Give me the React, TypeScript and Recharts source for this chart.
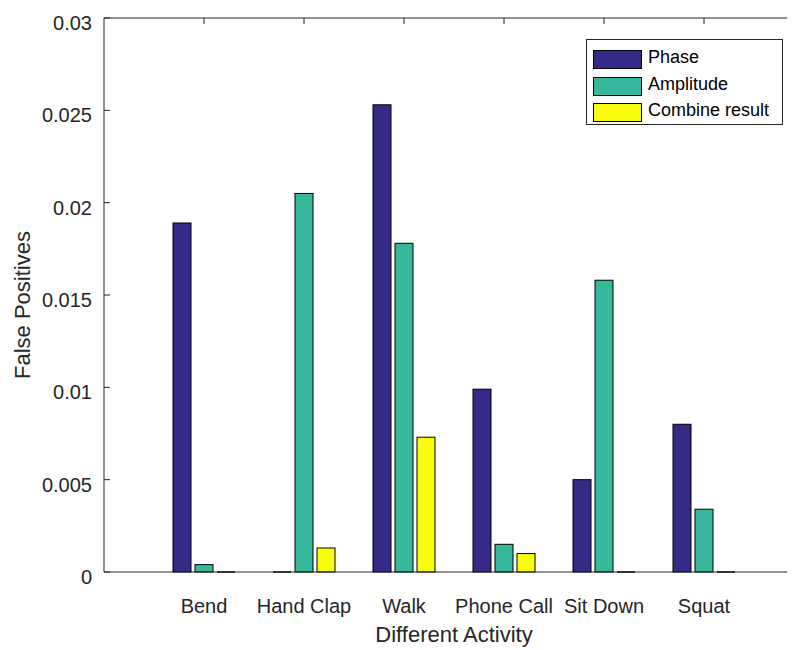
import { Bar, BarChart, Legend, XAxis, YAxis } from "recharts";

const activities = ["Bend", "Hand Clap", "Walk", "Phone Call", "Sit Down", "Squat"];
const phase = [0.0189, 0, 0.0253, 0.0099, 0.005, 0.008];
const amplitude = [0.0004, 0.0205, 0.0178, 0.0015, 0.0158, 0.0034];
const combined = [0, 0.0013, 0.0073, 0.001, 0, 0];
const yTicks = [0, 0.005, 0.01, 0.015, 0.02, 0.025, 0.03];

const series = [
	{ key: "phase", name: "Phase", color: "#352a87" },
	{ key: "amplitude", name: "Amplitude", color: "#37b89d" },
	{ key: "combined", name: "Combine result", color: "#f9fb0e" },
];

const data = activities.map((name, i) => ({
	name,
	phase: phase[i],
	amplitude: amplitude[i],
	combined: combined[i],
}));

const AXIS = "#262626";
const FONT = "'Liberation Sans', Arial, Helvetica, sans-serif";
const PLOT_LEFT = 96;
const PLOT_TOP = 10;

// zero-height bars still show up as a flat edge on the baseline
function BarShape(props: any) {
	const { x, y, width, height, fill } = props;
	if (!height) {
		return (
			<line x1={x} x2={x + width} y1={y} y2={y} stroke="#000" strokeWidth={1.5} />
		);
	}
	return (
		<rect
			x={x}
			y={y}
			width={width}
			height={height}
			fill={fill}
			stroke="#000"
			strokeWidth={1}
		/>
	);
}

function YTick(props: any) {
	const { y, payload } = props;
	return (
		<g>
			<line x1={PLOT_LEFT} x2={PLOT_LEFT + 6} y1={y} y2={y} stroke={AXIS} />
			<text
				x={PLOT_LEFT - 12}
				y={y + 5}
				textAnchor="end"
				dominantBaseline="central"
				fontSize={20}
				fill={AXIS}
				fontFamily={FONT}
			>
				{String(payload.value)}
			</text>
		</g>
	);
}

// category label below the axis, plus the inward tick on the top edge of the box
function XTick(props: any) {
	const { x, y, payload } = props;
	return (
		<g>
			<line x1={x} x2={x} y1={PLOT_TOP} y2={PLOT_TOP + 6} stroke={AXIS} />
			<text
				x={x}
				y={y}
				dy="0.71em"
				textAnchor="middle"
				fontSize={20}
				fill={AXIS}
				fontFamily={FONT}
			>
				{payload.value}
			</text>
		</g>
	);
}

function YLabel(props: any) {
	const { viewBox } = props;
	const cx = viewBox.x + 14;
	const cy = viewBox.y + viewBox.height / 2 + 10;
	return (
		<text
			x={cx}
			y={cy}
			transform={`rotate(-90 ${cx} ${cy})`}
			textAnchor="middle"
			dominantBaseline="central"
			fontSize={22}
			fill={AXIS}
			fontFamily={FONT}
		>
			False Positives
		</text>
	);
}

function LegendBox() {
	return (
		<div
			style={{
				border: `1px solid ${AXIS}`,
				background: "#fff",
				width: 197,
				height: 86,
				boxSizing: "border-box",
				paddingTop: 6,
				paddingLeft: 6,
				fontFamily: FONT,
				fontSize: 18,
				color: "#000",
			}}
		>
			{series.map((s) => (
				<div
					key={s.key}
					style={{ display: "flex", alignItems: "center", height: 26.7 }}
				>
					<span
						style={{
							display: "inline-block",
							width: 47,
							height: 17,
							background: s.color,
							border: "1px solid #000",
							marginRight: 6,
						}}
					/>
					<span style={{ lineHeight: "18px", marginTop: -5 }}>{s.name}</span>
				</div>
			))}
		</div>
	);
}

export default function App() {
	return (
		<div style={{ width: 787, height: 642, overflow: "hidden", position: "relative" }}>
			<BarChart
				width={800}
				height={642}
				data={data}
				margin={{ top: 9, right: 4, left: 0, bottom: 28 }}
				barSize={18}
				barGap={4}
			>
				<XAxis
					xAxisId="top"
					orientation="top"
					dataKey="name"
					height={1}
					padding={{ left: 50, right: 50 }}
					tickLine={false}
					tick={false}
					stroke={AXIS}
				/>
				<XAxis
					dataKey="name"
					height={50}
					padding={{ left: 50, right: 50 }}
					tickLine={false}
					tickSize={0}
					tickMargin={27}
					interval={0}
					stroke={AXIS}
					tick={<XTick />}
					label={{
						value: "Different Activity",
						position: "bottom",
						offset: 4,
						fontSize: 22,
						fill: AXIS,
						fontFamily: FONT,
					}}
				/>
				<YAxis
					width={96}
					domain={[0, 0.03]}
					ticks={yTicks}
					interval={0}
					tickLine={false}
					stroke={AXIS}
					tick={<YTick />}
					label={<YLabel />}
				/>
				<Legend
					layout="vertical"
					align="center"
					verticalAlign="middle"
					wrapperStyle={{ left: 578, top: 31, width: 197 }}
					content={<LegendBox />}
				/>
				{series.map((s) => (
					<Bar
						key={s.key}
						dataKey={s.key}
						name={s.name}
						fill={s.color}
						shape={<BarShape />}
						isAnimationActive={false}
					/>
				))}
			</BarChart>
		</div>
	);
}
